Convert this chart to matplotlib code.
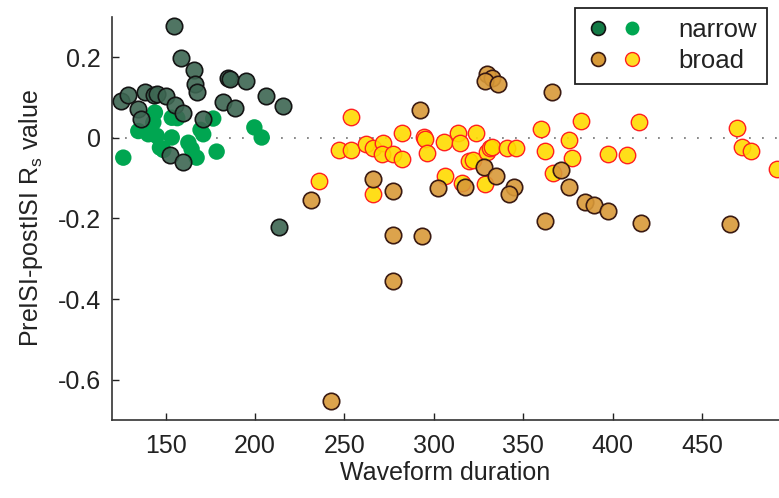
import matplotlib as mpl
mpl.use('Agg')

import matplotlib.pyplot as plt
from matplotlib.legend_handler import HandlerTuple

plt.rcParams['font.family'] = ['Liberation Sans', 'DejaVu Sans']
plt.rcParams['mathtext.fontset'] = 'custom'
plt.rcParams['mathtext.rm'] = 'Liberation Sans'

# narrow-spiking cells: dark = one subgroup, light = the other
narrow_dark_x = [154.6, 158.4, 166.0, 166.4, 167.3, 184.7, 186.0, 194.7, 124.8, 128.7,
                 138.4, 143.6, 145.0, 150.0, 155.2, 159.8, 134.7, 136.0, 182.2, 188.8,
                 205.9, 215.8, 171.0, 152.4, 159.8, 213.5]
narrow_dark_y = [0.277, 0.199, 0.168, 0.133, 0.115, 0.148, 0.145, 0.141, 0.092, 0.106,
                 0.114, 0.106, 0.110, 0.104, 0.081, 0.063, 0.071, 0.046, 0.090, 0.075,
                 0.104, 0.079, 0.046, -0.042, -0.059, -0.222]

narrow_light_x = [126.3, 134.7, 144.0, 143.1, 140.3, 145.0, 146.8, 153.4, 156.5, 153.4,
                  162.7, 164.5, 167.3, 171.0, 176.6, 178.5, 199.6, 203.7, 148.7, 169.5]
narrow_light_y = [-0.049, 0.017, 0.063, 0.038, 0.009, 0.005, -0.024, 0.050, 0.049, 0.001,
                  -0.012, -0.028, -0.049, 0.009, 0.048, -0.034, 0.026, 0.001, -0.030, 0.020]

# broad-spiking cells
broad_dark_x = [292.2, 231.1, 266.1, 277.3, 277.3, 293.5, 302.5, 329.5, 332.3, 328.6,
                336.0, 365.9, 328.2, 334.7, 317.4, 345.0, 342.2, 362.1, 370.9, 375.7,
                384.5, 389.7, 397.2, 415.8, 465.6, 277.0, 242.6]
broad_dark_y = [0.069, -0.153, -0.102, -0.131, -0.240, -0.244, -0.125, 0.158, 0.149, 0.141,
                0.134, 0.115, -0.073, -0.094, -0.121, -0.123, -0.139, -0.205, -0.080, -0.121,
                -0.160, -0.166, -0.182, -0.211, -0.214, -0.354, -0.653]

broad_light_x = [253.6, 247.1, 253.5, 262.0, 266.1, 271.4, 270.8, 277.0, 282.3, 282.3,
                 294.6, 295.0, 296.0, 235.9, 266.1, 305.8, 313.6, 314.6, 323.5, 319.8,
                 322.0, 329.5, 331.4, 332.3, 340.7, 345.9, 306.2, 315.5, 328.6, 359.7,
                 362.1, 375.7, 377.1, 366.8, 382.1, 397.2, 414.7, 408.2, 469.3, 472.1,
                 477.2, 491.7]
broad_light_y = [0.052, -0.030, -0.029, -0.014, -0.024, -0.012, -0.040, -0.039, -0.053, 0.011,
                 0.002, -0.003, -0.037, -0.107, -0.139, -0.009, 0.013, -0.012, 0.013, -0.057,
                 -0.055, -0.034, -0.026, -0.022, -0.026, -0.026, -0.094, -0.111, -0.115, 0.023,
                 -0.032, -0.006, -0.049, -0.088, 0.042, -0.039, 0.040, -0.043, 0.024, -0.022,
                 -0.032, -0.078]

x_ticks = [150, 200, 250, 300, 350, 400, 450]
y_ticks = [-0.6, -0.4, -0.2, 0, 0.2]
y_ticklabels = ['-0.6', '-0.4', '-0.2', '0', '0.2']

c_ndark = (0.24, 0.40, 0.32, 0.9)
c_nlight = '#00a651'
c_bdark = (0.85, 0.60, 0.22, 0.9)
c_blight = (1.0, 0.86, 0.0, 0.9)

fig = plt.figure(figsize=(7.79, 4.98), dpi=100)
ax = fig.add_axes([0.1438, 0.1566, 0.8562, 0.8093])

ax.axhline(0, color='#808080', lw=1.3, ls=(0, (1, 6.2)), zorder=1)

s = 140
ax.scatter(narrow_light_x, narrow_light_y, s=s, c=c_nlight, edgecolors='none', zorder=2)
ax.scatter(broad_light_x, broad_light_y, s=s, facecolors=[c_blight], edgecolors='#ff2020',
           linewidths=1.0, zorder=2)
ax.scatter(narrow_dark_x, narrow_dark_y, s=s, facecolors=[c_ndark], edgecolors='#141414',
           linewidths=1.2, zorder=3)
ax.scatter(broad_dark_x, broad_dark_y, s=s, facecolors=[c_bdark], edgecolors='#3a1a12',
           linewidths=1.2, zorder=3)

ax.set_xlim(120, 493)
ax.set_ylim(-0.7, 0.3)
ax.set_xticks(x_ticks)
ax.set_yticks(y_ticks)
ax.set_yticklabels(y_ticklabels)
ax.tick_params(direction='in', length=5, width=1, labelsize=18, colors='#222222')
ax.tick_params(axis='x', pad=10)
ax.tick_params(axis='y', pad=8)
for side in ['top', 'right']:
    ax.spines[side].set_visible(False)
for side in ['left', 'bottom']:
    ax.spines[side].set_linewidth(1.2)
    ax.spines[side].set_color('#333333')

ax.set_xlabel('Waveform duration', fontsize=18, color='#222222', labelpad=2)
ax.set_ylabel('PreISI-postISI R$_\\mathregular{s}$ value', fontsize=18, color='#222222',
              labelpad=9)

# legend: two swatches per class
h_nd = plt.Line2D([], [], ls='', marker='o', ms=10, mfc='#127a45', mec='#141414', mew=1.2)
h_nl = plt.Line2D([], [], ls='', marker='o', ms=10, mfc=c_nlight, mec='none')
h_bd = plt.Line2D([], [], ls='', marker='o', ms=10, mfc='#d89a38', mec='#3a1a12', mew=1.2)
h_bl = plt.Line2D([], [], ls='', marker='o', ms=10, mfc='#ffdd22', mec='#ff2020', mew=1.0)
leg = fig.legend([(h_nd, h_nl), (h_bd, h_bl)], ['narrow', 'broad'],
                 handler_map={tuple: HandlerTuple(ndivide=None, pad=0.3)},
                 loc='upper right', bbox_to_anchor=(0.9846, 0.984), borderaxespad=0,
                 fontsize=18.5, handlelength=2.35, handletextpad=1.28,
                 borderpad=0.4, labelspacing=0.28, fancybox=False, framealpha=1,
                 edgecolor='#222222')
leg.get_frame().set_linewidth(1.3)
for t in leg.get_texts():
    t.set_color('#222222')

fig.savefig('out.png', dpi=100)
